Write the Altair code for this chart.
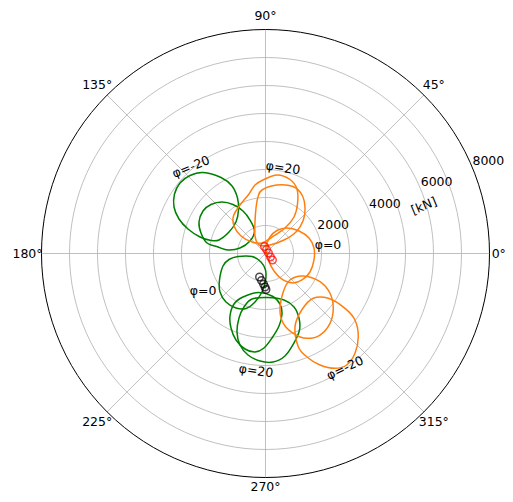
import altair as alt
import pandas as pd

# ---------------- axis values ----------------
grid_radii = [1000, 2000, 3000, 4000, 5000, 6000, 7000]
outer_radius = [8000]
r_tick_values = [2000, 4000, 6000, 8000]
r_tick_labels = ["2000", "4000", "6000", "8000"]
r_label_angle = 22.5
theta_ticks = [0, 45, 90, 135, 180, 225, 270, 315]
theta_labels = ["0°", "45°", "90°", "135°", "180°", "225°", "270°", "315°"]
theta_label_radius = [8330, 8500, 8500, 8500, 8500, 8500, 8330, 8500]
unit_label = "[kN]"

# ---------------- green loops (Fx, Fy in kN) ----------------
g_m20_x = [-2232, -1589, -1196, -1000, -964, -1054, -1304, -1661, -1946, -2339, -2768, -3089, -3268, -3250, -3054, -2696]
g_m20_y = [2893, 2714, 2411, 1982, 1554, 1125, 768, 482, 464, 589, 875, 1232, 1661, 2125, 2518, 2786]
g_m10_x = [-1554, -1161, -804, -554, -393, -554, -911, -1339, -1696, -2089, -2304, -2375, -2232, -1946]
g_m10_y = [1839, 1750, 1518, 1196, 804, 446, 196, 125, 232, 375, 732, 1125, 1518, 1750]
g_0_x = [-982, -482, -161, 0, 0, -125, -375, -696, -1054, -1411, -1625, -1643, -1518, -1304]
g_0_y = [-107, -107, -304, -589, -982, -1375, -1732, -1964, -1946, -1732, -1375, -946, -446, -214]
g_p10_x = [-804, -268, 232, 518, 589, 482, 232, -54, -375, -732, -1054, -1232, -1268, -1125]
g_p10_y = [-1554, -1393, -1518, -1804, -2161, -2589, -3018, -3375, -3518, -3411, -3089, -2661, -2232, -1804]
g_p20_x = [-482, 89, 661, 1018, 1196, 1214, 1018, 696, 268, -196, -625, -911, -1018, -946, -768]
g_p20_y = [-1625, -1571, -1661, -1911, -2304, -2732, -3196, -3661, -3875, -3839, -3625, -3268, -2804, -2304, -1911]

# ---------------- orange loops (Fx, Fy in kN) ----------------
o_m20_x = [1293, 1707, 2243, 2839, 3196, 3314, 3196, 2900, 2482, 1946, 1471, 1171, 1054]
o_m20_y = [-2018, -1600, -1600, -1957, -2375, -2971, -3564, -3982, -4100, -3982, -3686, -3329, -2614]
o_m10_x = [636, 875, 1350, 1946, 2304, 2421, 2304, 1946, 1471, 993, 636, 518]
o_m10_y = [-1364, -946, -804, -1007, -1421, -1957, -2493, -2911, -3029, -2850, -2493, -2018]
o_0_x = [768, 1196, 1554, 1732, 1732, 1589, 1304, 982, 625, 304, 89, 18, 161, 411]
o_0_y = [911, 804, 554, 196, -232, -661, -946, -1054, -946, -625, -196, 232, 589, 821]
o_p10_x = [-125, 400, 982, 1304, 1411, 1339, 1089, 661, 161, -232, -375, -375, -339, -268]
o_p10_y = [2268, 2446, 2393, 2089, 1625, 1161, 768, 482, 304, 304, 625, 1125, 1625, 2018]
o_p20_x = [-89, 411, 875, 1125, 1143, 1018, 696, 232, -125, -482, -875, -1125, -1143, -911, -589, -375]
o_p20_y = [2625, 2804, 2643, 2304, 1768, 1304, 911, 589, 375, 411, 625, 982, 1339, 1732, 2125, 2446]

# ---------------- marker series (kN) ----------------
red_x = [-36, 36, 107, 179, 250]
red_y = [250, 143, 18, -125, -232]
black_x = [-214, -143, -71, -18, 18]
black_y = [-839, -964, -1089, -1196, -1286]

# ---------------- annotations ----------------
phi_texts = ["φ=-20", "φ=20", "φ=0", "φ=0", "φ=20", "φ=-20"]
phi_x = [-2661, 625, 2232, -2232, -339, 2839]
phi_y = [3089, 3054, 304, -1357, -4196, -4089]
phi_rot = [338, 8, 0, 0, 8, 335]
unit_x = [5661]
unit_y = [1696]
unit_rot = [337.5]

# ---------------- layout ----------------
W, H = 497, 486
X_MIN, X_MAX = -9196.4, 8553.6
Y_MIN, Y_MAX = -8589.3, 8767.9
FONT = "DejaVu Sans"
FS = 12.5

xs = alt.Scale(domain=[X_MIN, X_MAX], nice=False, zero=False)
ys = alt.Scale(domain=[Y_MIN, Y_MAX], nice=False, zero=False)
X = alt.X("x:Q", scale=xs, axis=None)
Y = alt.Y("y:Q", scale=ys, axis=None)

# grid circles
angle_steps = list(range(0, 361, 3))
circ_rows = [{"r": r, "a": a} for r in grid_radii + outer_radius for a in angle_steps]
circ_df = pd.DataFrame(circ_rows)
polar_calc = dict(x="datum.r*cos(datum.a*PI/180)", y="datum.r*sin(datum.a*PI/180)")

grid = alt.Chart(circ_df).transform_filter("datum.r < 8000").transform_calculate(**polar_calc).mark_line(
    color="#b0b0b0", strokeWidth=0.8).encode(x=X, y=Y, detail="r:N", order="a:Q")
outer = alt.Chart(circ_df).transform_filter("datum.r >= 8000").transform_calculate(**polar_calc).mark_line(
    color="black", strokeWidth=1.0).encode(x=X, y=Y, detail="r:N", order="a:Q")

spoke_rows = [{"a": a, "r": r, "k": i} for i, a in enumerate(theta_ticks) for r in [0, outer_radius[0]]]
spokes = alt.Chart(pd.DataFrame(spoke_rows)).transform_calculate(**polar_calc).mark_line(
    color="#b0b0b0", strokeWidth=0.8).encode(x=X, y=Y, detail="k:N", order="r:Q")

# theta labels
th_df = pd.DataFrame({"a": theta_ticks, "label": theta_labels, "r": theta_label_radius})
th_text = alt.Chart(th_df).transform_calculate(**polar_calc).mark_text(
    font=FONT, fontSize=FS, color="black", align="center", baseline="middle").encode(x=X, y=Y, text="label:N")

# r labels
rl_df = pd.DataFrame({"r": r_tick_values, "label": r_tick_labels, "a": r_label_angle})
rl_text = alt.Chart(rl_df).transform_calculate(**polar_calc).mark_text(
    font=FONT, fontSize=FS, color="black", align="left", baseline="bottom").encode(x=X, y=Y, text="label:N")

# loops
loops = [
    ("green", "g-20", g_m20_x, g_m20_y), ("green", "g-10", g_m10_x, g_m10_y), ("green", "g0", g_0_x, g_0_y),
    ("green", "g10", g_p10_x, g_p10_y), ("green", "g20", g_p20_x, g_p20_y),
    ("orange", "o-20", o_m20_x, o_m20_y), ("orange", "o-10", o_m10_x, o_m10_y), ("orange", "o0", o_0_x, o_0_y),
    ("orange", "o10", o_p10_x, o_p10_y), ("orange", "o20", o_p20_x, o_p20_y),
]
loop_rows = []
for grp, name, lx, ly in loops:
    for i, (fx, fy) in enumerate(zip(lx, ly)):
        loop_rows.append({"group": grp, "loop": name, "i": i, "x": fx, "y": fy})
loop_df = pd.DataFrame(loop_rows)

color_scale = alt.Scale(domain=["green", "orange", "red", "black"],
                        range=["#008000", "#ff7f0e", "#ff0000", "#000000"])

loop_layer = alt.Chart(loop_df).mark_line(interpolate="cardinal-closed", strokeWidth=1.5).encode(
    x=X, y=Y, color=alt.Color("group:N", scale=color_scale, legend=None), detail="loop:N", order="i:Q")

pts_df = pd.DataFrame(
    [{"group": "red", "x": a, "y": b} for a, b in zip(red_x, red_y)]
    + [{"group": "black", "x": a, "y": b} for a, b in zip(black_x, black_y)]
)
pts = alt.Chart(pts_df).mark_point(shape="circle", filled=False, size=56, strokeWidth=1.5).encode(
    x=X, y=Y, color=alt.Color("group:N", scale=color_scale, legend=None))

ann_df = pd.DataFrame({"label": phi_texts + [unit_label], "x": phi_x + unit_x, "y": phi_y + unit_y,
                       "rot": phi_rot + unit_rot})
ann = alt.Chart(ann_df).mark_text(font=FONT, fontSize=FS, color="black", align="center", baseline="middle").encode(
    x=X, y=Y, text="label:N", angle=alt.Angle("rot:Q", scale=None))

chart = alt.layer(grid, spokes, outer, loop_layer, pts, th_text, rl_text, ann).properties(
    width=W, height=H, autosize=alt.AutoSizeParams(type="none"), padding=0
).configure_view(stroke=None)

chart.save("out.html", embed_options={"renderer": "svg", "actions": False})
